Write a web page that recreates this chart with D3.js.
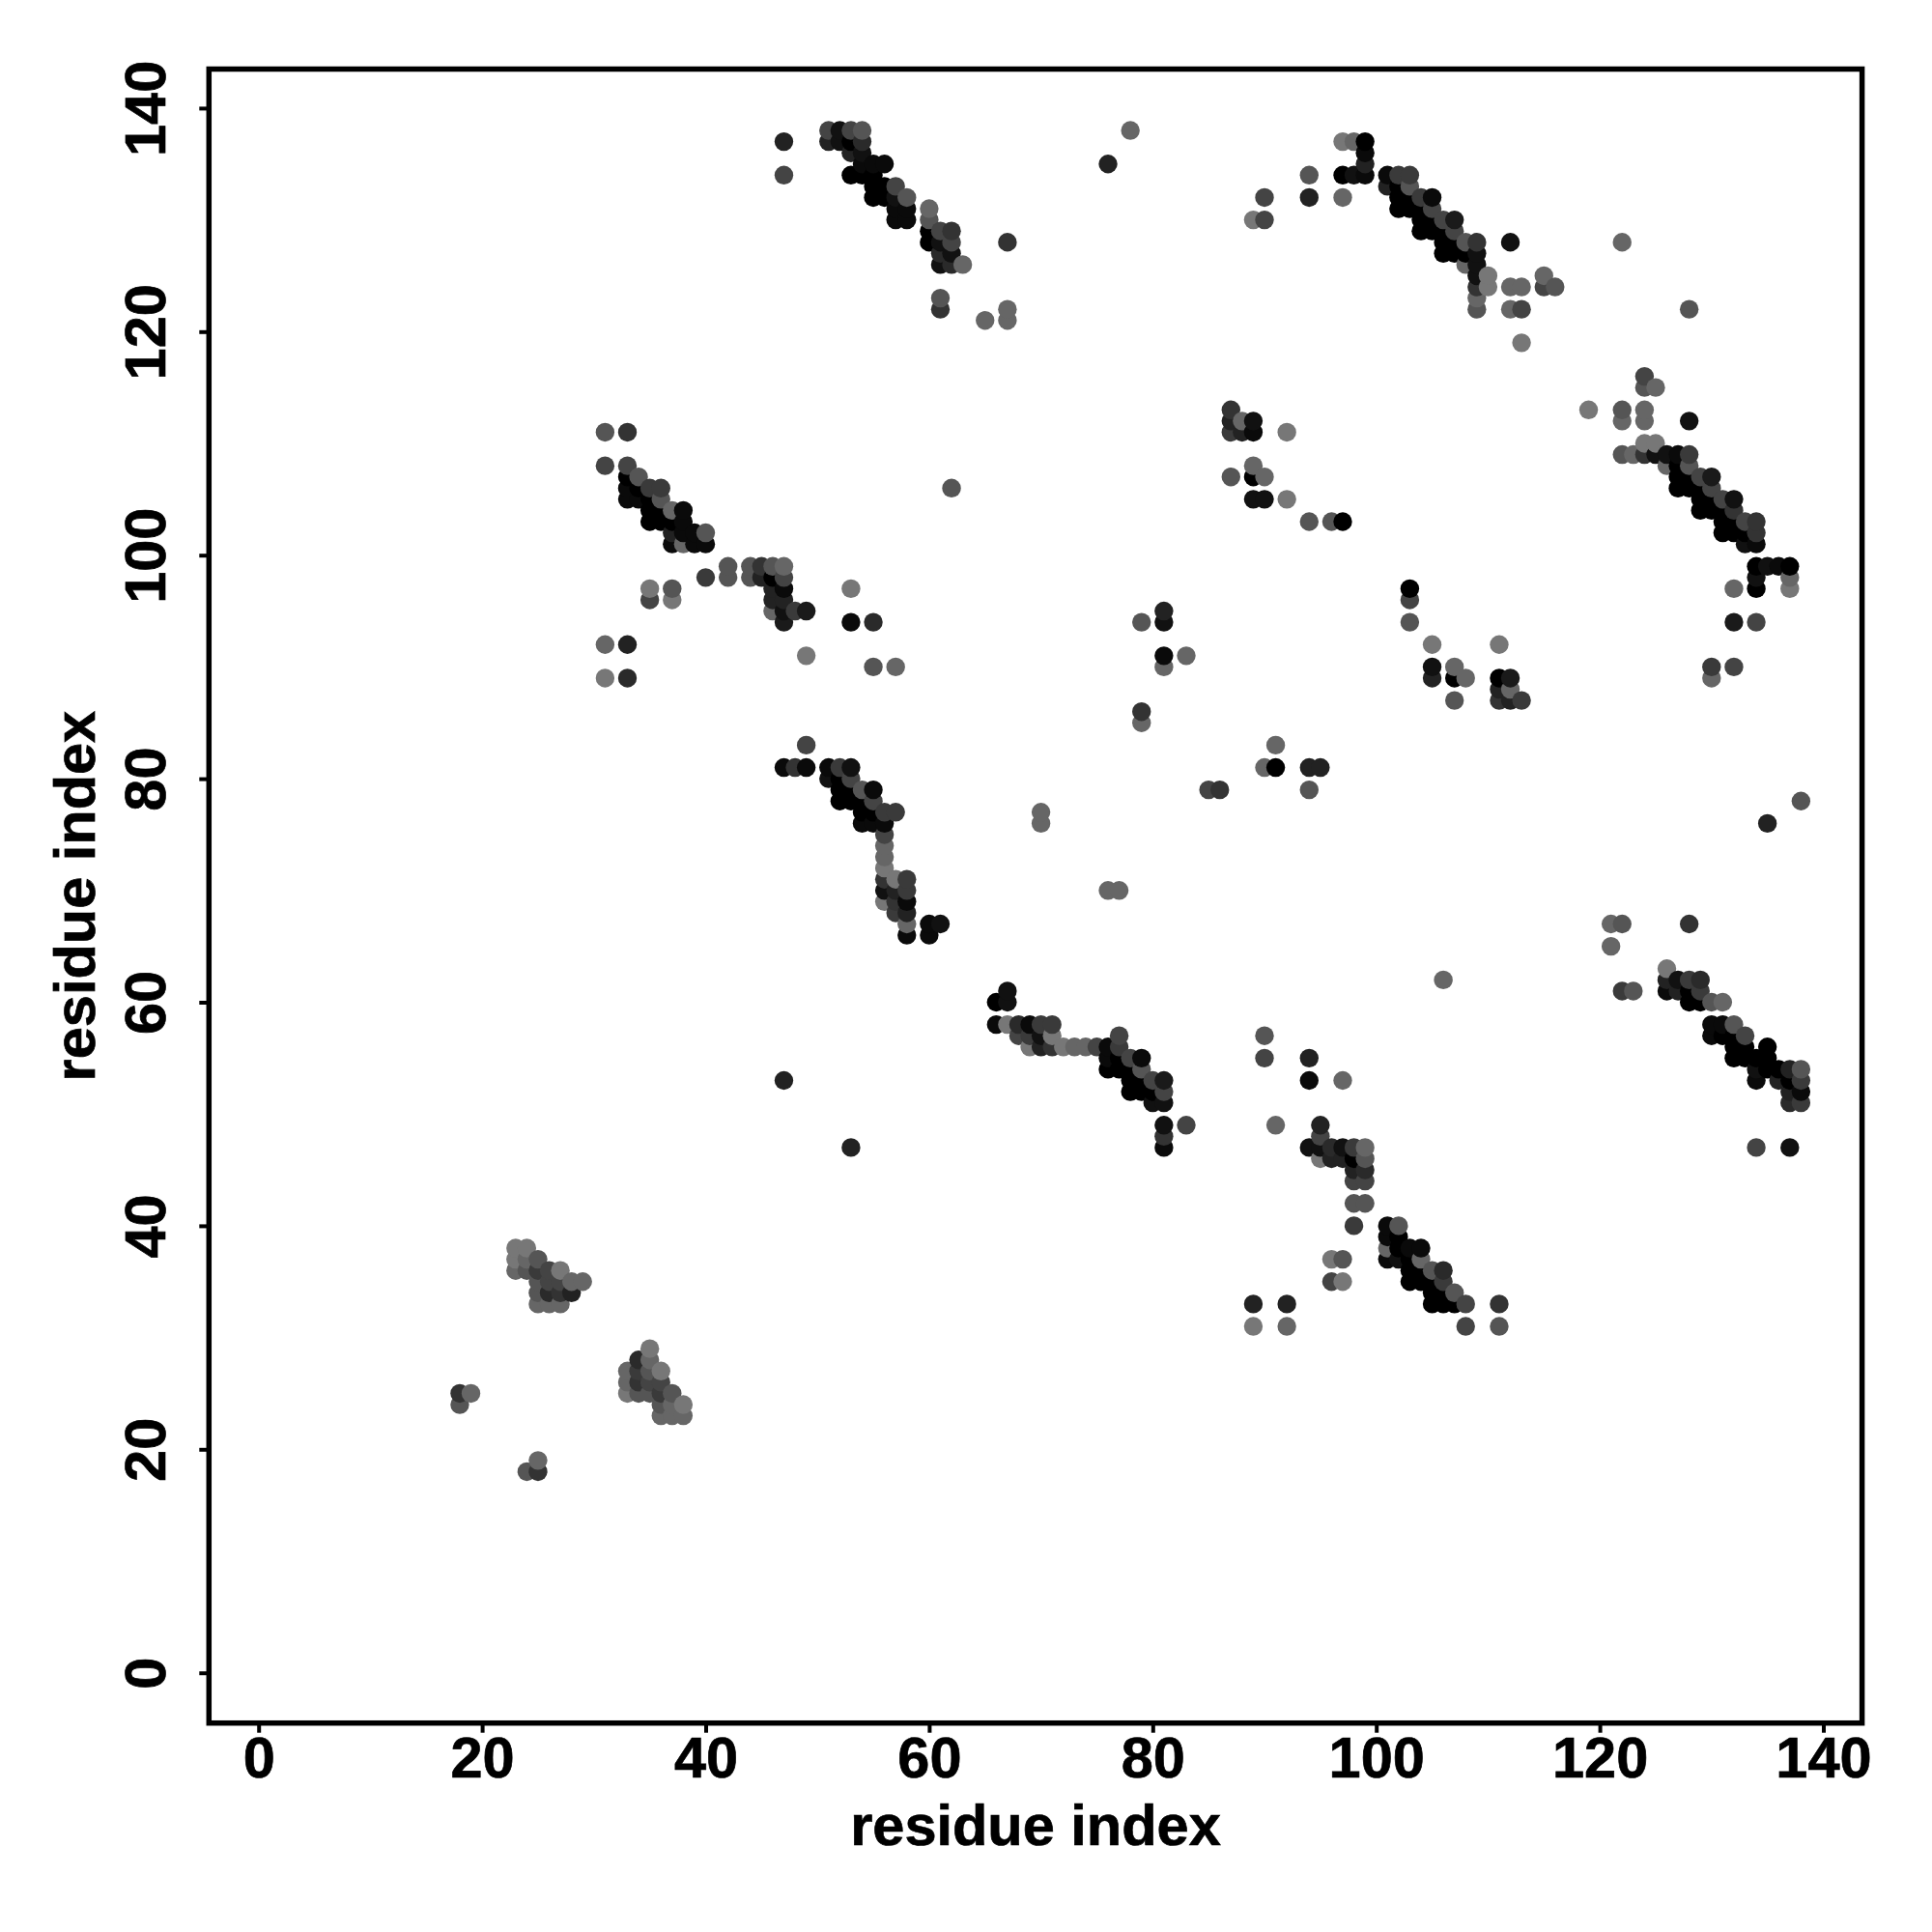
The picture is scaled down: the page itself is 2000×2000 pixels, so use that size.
<!DOCTYPE html>
<html>
<head>
<meta charset="utf-8">
<script src="https://cdn.jsdelivr.net/npm/d3@7"></script>
<style>
html,body{margin:0;padding:0;background:#fff}
svg{display:block}
text{font-family:"Liberation Sans",Arial,sans-serif;font-weight:700;fill:#000;stroke:#000;stroke-width:0.7}
</style>
</head>
<body>
<svg id="c" width="2000" height="2000"></svg>
<script>
const xTicks = [0,20,40,60,80,100,120,140];
const yTicks = [0,20,40,60,80,100,120,140];
const xLabel = "residue index";
const yLabel = "residue index";
// each row: residue i, residue j, grey level
const blockTopA = [
[47,137,34],[47,134,68],[51,138,68],[52,138,17],[53,138,68],[54,138,85],[51,137,34],[52,137,17],[53,137,0],[54,137,42],
[53,136,34],[54,136,17],[54,135,10],[55,135,10],[56,135,10],[53,134,0],[54,134,0],[55,134,0],[55,133,0],[56,133,0],[57,133,68],
[55,132,0],[56,132,0],[57,132,17],[58,132,85],[57,131,10],[58,131,10],[57,130,10],[58,130,10],
[60,131,102],[60,130,85],[60,129,0],[61,129,68],[62,129,51],[60,128,0],[61,128,17],[62,128,68],[67,128,51],
[61,127,42],[62,127,17],[61,126,17],[62,126,42],[63,126,102],[61,123,85],[61,122,51],[65,121,102],[67,121,102],[67,122,102],
[76,135,34],[78,138,102]];
const blockTopB = [
[97,137,119],[98,137,102],[99,137,0],[99,136,10],[99,135,34],[94,134,85],[97,134,0],[98,134,17],[99,134,10],
[101,134,10],[102,134,58],[103,134,58],[101,133,34],[102,133,0],[103,133,85],[90,132,68],[94,132,34],[97,132,102],
[102,132,0],[103,132,0],[104,132,58],[105,132,10],[102,131,0],[103,131,0],[104,131,0],[105,131,68],
[89,130,119],[90,130,68],[104,130,0],[105,130,0],[106,130,68],[107,130,26],[104,129,0],[105,129,0],[106,129,0],[107,129,68],
[106,128,0],[107,128,0],[108,128,85],[109,128,51],[112,128,17],[106,127,0],[107,127,0],[108,127,0],[109,127,17],
[108,126,102],[109,126,17],[109,125,17],[110,125,119],[115,125,102],[109,124,51],[110,124,119],[112,124,102],[113,124,102],[115,124,68],[116,124,85],
[109,123,102],[109,122,85],[112,122,102],[113,122,68],[113,119,119],[122,128,102],[128,122,85]];
const blockMidA = [
[31,111,85],[33,111,51],[31,108,68],[33,108,68],[33,107,0],[34,107,85],[33,106,10],[34,106,0],[35,106,58],[36,106,58],
[33,105,10],[34,105,10],[35,105,0],[36,105,85],[35,104,0],[36,104,0],[37,104,102],[38,104,10],[35,103,0],[36,103,0],[37,103,0],[38,103,10],
[37,102,34],[38,102,10],[39,102,10],[40,102,85],[37,101,10],[38,101,102],[39,101,10],[40,101,10],
[42,99,85],[44,99,85],[45,99,51],[46,99,85],[47,99,102],[40,98,58],[42,98,85],[44,98,85],[45,98,34],[46,98,0],[47,98,68],
[35,97,119],[37,97,85],[46,97,34],[47,97,10],[53,97,119],[35,96,68],[37,96,119],[46,96,34],[47,96,34],
[46,95,102],[47,95,17],[48,95,58],[49,95,26],[47,94,26],[53,94,10],[55,94,42],[31,92,102],[33,92,34],[49,91,119],
[55,90,85],[57,90,102],[31,89,119],[33,89,42],[62,106,85]];
const blockRightTop = [
[124,116,68],[124,115,85],[125,115,102],[119,113,119],[122,113,85],[124,113,102],[122,112,102],[124,112,102],[128,112,17],
[124,110,119],[125,110,119],[122,109,85],[123,109,102],[124,109,51],[125,109,17],[126,109,17],[127,109,10],[128,109,58],
[126,108,102],[127,108,0],[128,108,85],[127,107,0],[128,107,0],[129,107,68],[130,107,26],[127,106,0],[128,106,0],[129,106,0],[130,106,68],
[129,105,0],[130,105,0],[131,105,68],[132,105,17],[129,104,0],[130,104,0],[131,104,0],[132,104,51],
[131,103,0],[132,103,0],[133,103,68],[134,103,51],[131,102,0],[132,102,0],[133,102,0],[134,102,51],[133,101,17],[134,101,10],
[134,99,0],[135,99,17],[136,99,10],[137,99,0],[134,98,17],[137,98,102],[132,97,102],[134,97,0],[137,97,119],
[132,94,26],[134,94,68],[130,90,58],[132,90,68],[130,89,102]];
const blockCentreA = [
[49,83,68],[47,81,10],[48,81,51],[49,81,10],[51,81,10],[52,81,58],[53,81,17],[51,80,17],[52,80,0],[53,80,68],
[52,79,0],[53,79,0],[54,79,85],[55,79,10],[52,78,0],[53,78,0],[54,78,0],[55,78,68],[54,77,0],[55,77,0],[56,77,58],[57,77,58],
[54,76,10],[55,76,10],[56,76,10],[56,75,68],[56,74,102],[56,73,102],[56,72,119],[56,71,51],[57,71,119],[58,71,58],
[56,70,17],[57,70,34],[58,70,58],[56,69,119],[57,69,51],[58,69,10],[57,68,58],[58,68,34],[58,67,102],[60,67,10],[61,67,17],[58,66,10],[60,66,10]];
const blockCentreB = [
[67,61,17],[66,60,0],[67,60,17],[66,58,10],[67,58,119],[68,58,42],[69,58,10],[70,58,58],[71,58,58],
[68,57,68],[69,57,58],[70,57,17],[71,57,119],[77,57,68],[69,56,119],[70,56,34],[71,56,51],[72,56,119],[73,56,102],[74,56,102],[75,56,68],[76,56,10],[77,56,58],
[76,55,10],[77,55,0],[78,55,68],[79,55,10],[76,54,0],[77,54,0],[78,54,0],[79,54,85],[78,53,0],[79,53,0],[80,53,68],[81,53,26],
[78,52,0],[79,52,0],[80,52,0],[81,52,68],[80,51,17],[81,51,17],[81,49,17],[83,49,68],[81,48,51],[81,47,10],[47,53,34],[53,47,34]];
const blockRightLow = [
[121,67,102],[122,67,85],[128,67,51],[121,65,102],[106,62,102],[122,61,58],[123,61,85],[126,63,119],[126,62,34],[127,62,17],[128,62,58],[129,62,42],
[126,61,10],[127,61,34],[128,61,0],[129,61,58],[128,60,0],[129,60,0],[130,60,85],[131,60,102],[130,58,10],[131,58,10],[132,58,85],
[130,57,10],[131,57,0],[132,57,0],[133,57,68],[132,56,0],[133,56,0],[135,56,0],[132,55,0],[133,55,0],[134,55,0],[135,55,0],
[134,54,17],[135,54,0],[136,54,0],[137,54,34],[138,54,85],[134,53,10],[136,53,34],[137,53,0],[138,53,58],[137,52,34],[138,52,10],[137,51,42],[138,51,58],
[134,47,68],[137,47,17],[135,76,34],[138,78,85]];
const blockLowMid = [
[95,49,34],[95,48,68],[94,47,17],[95,47,17],[96,47,42],[97,47,17],[98,47,58],[99,47,102],[95,46,119],[96,46,34],[97,46,34],[98,46,0],[99,46,85],
[98,45,34],[99,45,42],[98,44,68],[99,44,68],[98,42,85],[99,42,85],[98,40,58],[101,40,10],[102,40,85],[101,39,10],[102,39,0],
[101,38,102],[102,38,0],[103,38,10],[104,38,10],[96,37,119],[97,37,85],[101,37,10],[102,37,17],[103,37,0],[104,37,102],
[103,36,0],[104,36,0],[105,36,85],[106,36,42],[96,35,68],[97,35,119],[103,35,0],[104,35,0],[105,35,0],[106,35,58],
[105,34,0],[106,34,0],[107,34,85],[105,33,0],[106,33,0],[107,33,0],[108,33,68],[111,33,51],[108,31,68],[111,31,85],
[89,33,34],[89,31,119],[92,33,34],[92,31,102],[91,49,102],[90,57,85],[90,55,68],[94,55,34],[94,53,10],[97,53,102]];
const blockSparse = [
[87,113,51],[87,112,34],[88,112,102],[89,112,17],[87,111,58],[88,111,34],[89,111,10],[92,111,119],[89,108,102],[87,107,85],[89,107,0],[90,107,102],
[89,105,17],[90,105,17],[92,105,119],[94,103,85],[96,103,85],[97,103,0],
[103,97,0],[103,96,68],[103,94,85],[105,92,119],[111,92,119],[105,90,17],[107,90,102],
[105,89,34],[107,89,0],[108,89,102],[111,89,0],[112,89,26],[111,88,34],[112,88,102],[107,87,85],[111,87,51],[112,87,34],[113,87,58],
[79,94,85],[81,95,34],[81,94,17],[81,91,10],[81,90,102],[83,91,102],[79,86,51],[79,85,102],
[85,79,68],[86,79,51],[90,81,102],[91,81,0],[91,83,102],[94,81,34],[95,81,34],[94,79,85],[70,77,102],[70,76,102],[76,70,102],[77,70,102]];
const blockLowLeft = [
[23,38,119],[24,38,119],[23,37,119],[24,37,102],[25,37,85],[23,36,102],[24,36,85],[25,36,58],[26,36,68],[27,36,119],
[25,35,85],[26,35,68],[27,35,68],[28,35,102],[29,35,102],[25,34,85],[26,34,42],[27,34,51],[28,34,34],[25,33,102],[26,33,102],[27,33,102],
[35,29,119],[34,28,42],[35,28,102],[33,27,102],[34,27,58],[35,27,85],[36,27,119],[33,26,102],[34,26,51],[35,26,68],[36,26,68],
[33,25,119],[34,25,85],[35,25,85],[36,25,58],[37,25,85],[36,24,85],[37,24,102],[38,24,119],[36,23,102],[37,23,102],[38,23,102],
[25,19,102],[24,18,85],[25,18,51],[18,25,51],[18,24,85],[19,25,102]];

const points = [].concat(blockTopA,blockTopB,blockMidA,blockRightTop,blockCentreA,blockCentreB,blockRightLow,blockLowMid,blockSparse,blockLowLeft)
  .map(([i,j,g])=>({i,j,g}))
  .sort((a,b)=>d3.ascending(a.i,b.i)||d3.ascending(a.j,b.j));

const frame = {left:216.3,right:1927.6,top:71.5,bottom:1783.7};
const x = d3.scaleLinear().domain([0,140]).range([267.7,1887.5]);
const y = d3.scaleLinear().domain([0,140]).range([1731.7,111.9]);
const grey = d3.scaleLinear().domain([0,255]).range(["#000","#fff"]);

const svg = d3.select("#c");
svg.append("rect").attr("width",2000).attr("height",2000).attr("fill","#fff");

svg.append("g").selectAll("circle").data(points).join("circle")
  .attr("cx",d=>x(d.i)).attr("cy",d=>y(d.j)).attr("r",9.7).attr("fill",d=>grey(d.g));

svg.append("rect")
  .attr("x",frame.left).attr("y",frame.top)
  .attr("width",frame.right-frame.left).attr("height",frame.bottom-frame.top)
  .attr("fill","none").attr("stroke","#000").attr("stroke-width",5.5);

const gx = svg.append("g").attr("transform",`translate(0,${frame.bottom})`)
  .call(d3.axisBottom(x).tickValues(xTicks).tickFormat(d3.format("d")).tickSize(10).tickPadding(0));
gx.select(".domain").remove();
gx.selectAll("line").attr("stroke","#000").attr("stroke-width",4);
gx.selectAll("text").attr("dy",null).attr("y",56.5).attr("font-size",59.5).attr("fill","#000");

const gy = svg.append("g").attr("transform",`translate(${frame.left},0)`)
  .call(d3.axisLeft(y).tickValues(yTicks).tickFormat(d3.format("d")).tickSize(10).tickPadding(0));
gy.select(".domain").remove();
gy.selectAll("line").attr("stroke","#000").attr("stroke-width",4);
gy.selectAll("text").attr("dy",null).attr("x",null).attr("y",null)
  .attr("text-anchor","middle").attr("font-size",59.5).attr("fill","#000")
  .attr("transform","translate(-45.5,0) rotate(-90)");

svg.append("text").attr("x",(frame.left+frame.right)/2).attr("y",1910)
  .attr("text-anchor","middle").attr("font-size",59.5).text(xLabel);
svg.append("text").attr("transform",`translate(98,${(frame.top+frame.bottom)/2}) rotate(-90)`)
  .attr("text-anchor","middle").attr("font-size",59.5).text(yLabel);
</script>
</body>
</html>
